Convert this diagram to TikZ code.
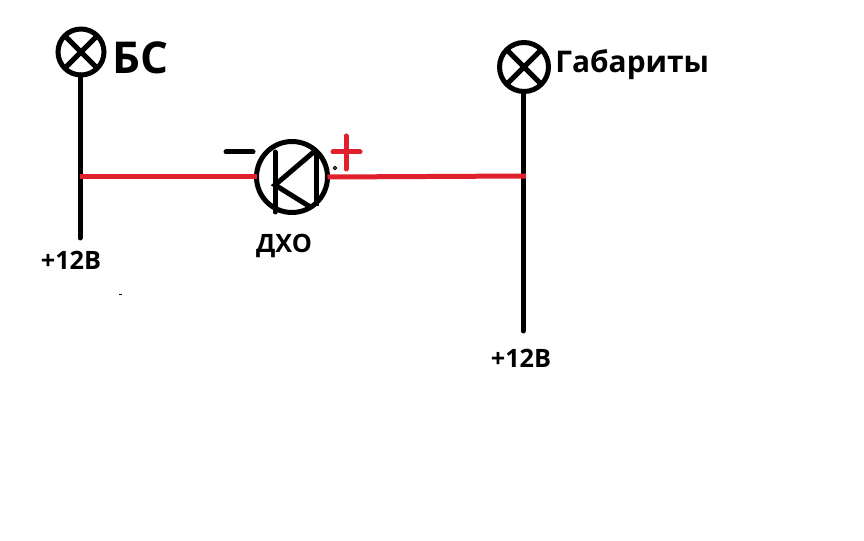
\documentclass[tikz,border=0pt]{standalone}
\usepackage{fontspec}
\setmainfont{Open Sans}
\definecolor{wirered}{RGB}{224,32,44}
\tikzset{
  wire/.style={line width=.1cm},
  redwire/.style={line width=.1cm,wirered},
  lamp/.style={circle,draw,line width=.1cm,minimum size=.92cm,inner sep=0pt,outer sep=0pt},
  lbl/.style={inner sep=0pt,font=\bfseries\fontsize{14.4}{16}\selectfont}
}
\begin{document}
\begin{tikzpicture}[x=.02cm,y=-.02cm]
  \useasboundingbox (0,0) rectangle (864,540);
  % lamps
  \node[lamp] (lampbs) at (81,52) {};
  \node[lamp,minimum size=.98cm] (lampgab) at (524,67) {};
  \draw[wire] (lampbs.45) -- (lampbs.225);
  \draw[wire] (lampbs.135) -- (lampbs.315);
  \draw[wire] (lampgab.45) -- (lampgab.225);
  \draw[wire] (lampgab.135) -- (lampgab.315);
  \node[lbl,font=\bfseries\fontsize{25}{28}\selectfont,anchor=west] (bs) at (112,58) {БС};
  \node[lbl,font=\bfseries\fontsize{17}{20}\selectfont,anchor=west] (gab) at (555,65) {Габариты};

  % transistor
  \node[lamp,minimum size=1.42cm] (dho) at (292,177) {};
  \coordinate (base) at (275,185);
  \coordinate (bartop) at (316,150);
  \coordinate (barbot) at (316,206);
  \draw[wire,line cap=round] (275,152) -- (275,212);
  \draw[wire] (bartop) -- (barbot);
  \draw[wire] (bartop) -- (base) -- (312,208);

  % wires
  \coordinate (endbs) at (80,238);
  \coordinate (endgab) at (523,331);
  \coordinate (joinbs) at (80,177);
  \coordinate (joingab) at (526,176);
  \draw[wire,line cap=round] (lampbs.south -| joinbs) -- (endbs);
  \draw[wire,line cap=round] (lampgab.south -| endgab) -- (endgab);
  \draw[redwire] (joinbs) -- (dho.west);
  \draw[redwire] (dho.east) -- (joingab);

  % polarity
  \coordinate (minusl) at (226,152);
  \coordinate (minusr) at (253,152);
  \draw[wire,line cap=round] (minusl) -- (minusr);
  \draw[redwire,line cap=round] (333,152) -- (360,152);
  \draw[redwire,line cap=round] (346,136) -- (346,169);
  \node[circle,draw,line width=.02cm,fill=gray,minimum size=.07cm,inner sep=0pt] (dot) at (335,168) {};
  \node[fill=black,minimum width=.06cm,minimum height=.02cm,inner sep=0pt] (speck) at (120,294) {};

  % labels
  \node[lbl] (lblbs) at (71,260) {+12В};
  \node[lbl] (lblgab) at (521,358) {+12В};
  \node[lbl] (lbldho) at (284,246) {ДХО};
\end{tikzpicture}
\end{document}
